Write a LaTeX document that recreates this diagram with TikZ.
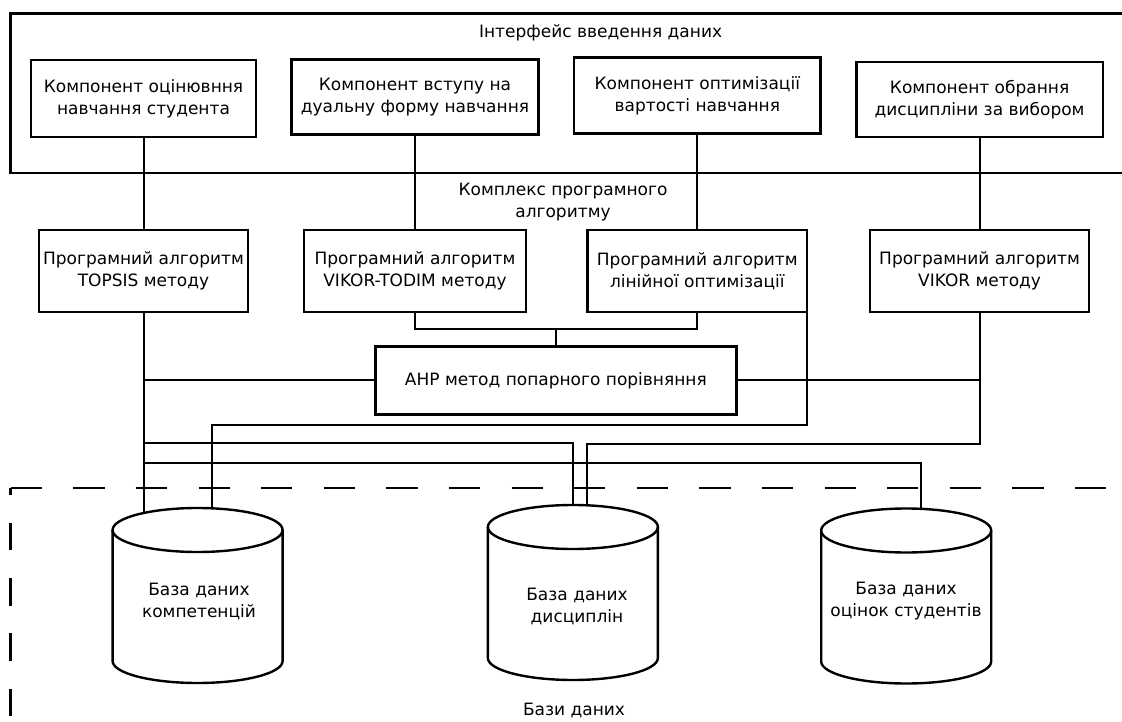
\documentclass[tikz,border=0pt]{standalone}
\usepackage{fontspec}
\setmainfont{DejaVu Sans}
\usetikzlibrary{backgrounds}

% database drum drawn around an invisible rectangle node
\newcommand\dbdrum[1]{%
  \draw[dbline] ([yshift=-22pt]#1.north west) -- ([yshift=22pt]#1.south west)
    arc[start angle=180, end angle=360, x radius=85pt, y radius=22pt]
    -- ([yshift=-22pt]#1.north east)
    arc[start angle=0, end angle=180, x radius=85pt, y radius=22pt] -- cycle;
  \draw[line width=2.4pt] ([yshift=-22pt]#1.north west)
    arc[start angle=180, end angle=360, x radius=85pt, y radius=22pt];
}

\tikzset{
  txt/.style={font=\fontsize{17pt}{22pt}\selectfont, align=center, inner sep=0pt},
  blk/.style={txt, draw, line width=2.6pt, fill=white, outer sep=0pt},
  link/.style={line width=2pt},
  zone/.style={line width=2.6pt},
  dbline/.style={line width=2.4pt, fill=white},
  drum/.style={minimum width=170, minimum height=175, inner sep=0pt, outer sep=0pt},
}

\begin{document}
\begin{tikzpicture}[x=1pt, y=-1pt]
\useasboundingbox (0,0) rectangle (1122,722);

% data input interface (open to the right)
\node[zone, draw, minimum width=1140, minimum height=159.7, anchor=north west, inner sep=0pt, outer sep=0pt] (iface) at (10.7,13.3) {};
\node[txt] (ifacelbl) at (600.6,33) {Інтерфейс введення даних};

% input components
\node[blk, minimum width=225,   minimum height=77]   (c1) at (143.5,98.5) {Компонент оцінювння\\навчання студента};
\node[blk, minimum width=246.8, minimum height=75]   (c2) at (415,96.8)   {Компонент вступу на\\дуальну форму навчання};
\node[blk, minimum width=246.8, minimum height=75.6] (c3) at (697.3,95.5) {Компонент оптимізації\\вартості навчання};
\node[blk, minimum width=246.8, minimum height=75]   (c4) at (979.6,99.5) {Компонент обрання\\дисципліни за вибором};

\node[txt] (cplx) at (563,202.5) {Комплекс програмного\\алгоритму};

% algorithms
\node[blk, minimum width=209.3, minimum height=82] (t1) at (143.5,271) {Програмний алгоритм\\TOPSIS методу};
\node[blk, minimum width=222.1, minimum height=82] (vt) at (415,271)   {Програмний алгоритм\\VIKOR-TODIM методу};
\node[blk, minimum width=219.2, minimum height=82] (ln) at (697.3,271) {Програмний алгоритм\\лінійної оптимізації};
\node[blk, minimum width=218.9, minimum height=82] (vk) at (979.6,271) {Програмний алгоритм\\VIKOR методу};

\node[blk, minimum width=360.7, minimum height=67.5] (ahp) at (555.85,380.45) {АНР метод попарного порівняння};

% databases zone
\draw[zone, dash pattern=on 31.3pt off 31.3pt, dash phase=-1.3pt] (9.4,488) -- (1130,488);
\draw[zone, dash pattern=on 27.7pt off 27.6pt, dash phase=20.7pt] (10.7,488) -- (10.7,730);
\node[txt] (dblbl) at (574,710) {Бази даних};

\node[drum] (db1) at (197.6,595.5) {};
\node[drum] (db2) at (572.9,592.5) {};
\node[drum] (db3) at (906.2,596)   {};
\dbdrum{db1}
\dbdrum{db2}
\dbdrum{db3}
\node[txt] (db1t) at (199,601)   {База даних\\компетенцій};
\node[txt] (db2t) at (577,606)   {База даних\\дисциплін};
\node[txt] (db3t) at (906,601.5) {База даних\\оцінок студентів};

% connections
\coordinate (jn) at (555.85,329.3);
\coordinate (rowL) at (0,425);
\coordinate (rowT) at (0,443.3);
\coordinate (rowV) at (0,444.3);
\coordinate (rowB) at (0,463.3);

\begin{pgfonlayer}{background}
\draw[link] (c1) -- (t1);
\draw[link] (c2) -- (vt);
\draw[link] (c3) -- (ln);
\draw[link] (c4) -- (vk);
\draw[link] (vt.south) |- (jn) -| (ln.south);
\draw[link] (jn) -- (ahp);
\draw[link] (ahp.west) -- (ahp.west -| t1.south);
\draw[link] (ahp.east) -- (ahp.east -| vk.south);
\draw[link] (t1.south) -- (t1.south |- db1.center);
\draw[link] (t1.south |- rowT) -| (db2.center);
\draw[link] (t1.south |- rowB) -| ([xshift=14.5pt]db3.center);
\draw[link] (ln.south east) -- (ln.south east |- rowL) -| ([xshift=14.5pt]db1.center);
\draw[link] (vk.south) -- (vk.south |- rowV) -| ([xshift=14.5pt]db2.center);
\end{pgfonlayer}
\end{tikzpicture}
\end{document}
